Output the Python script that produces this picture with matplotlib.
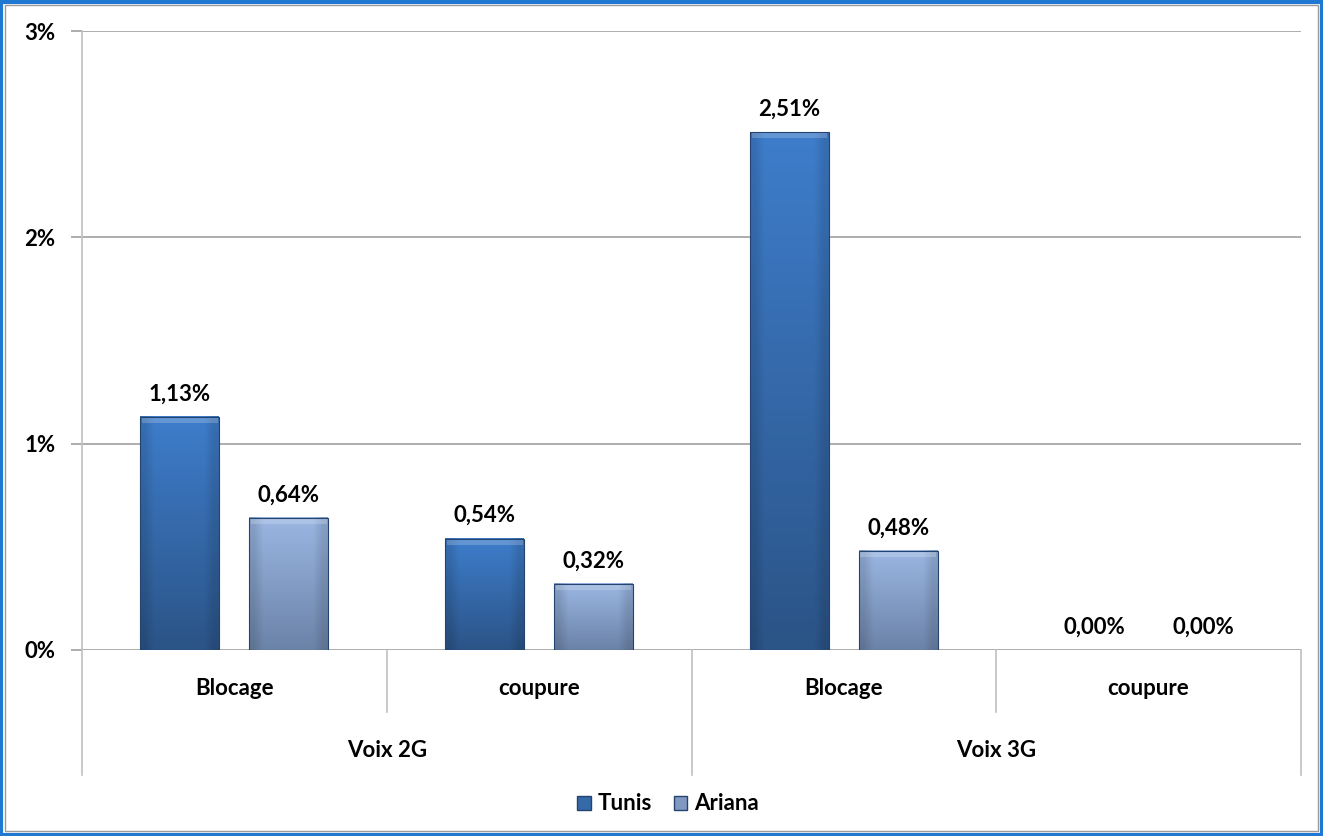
import numpy as np
import matplotlib.pyplot as plt
from matplotlib.patches import Rectangle
from matplotlib.lines import Line2D

plt.rcParams['font.family'] = ['Lato', 'DejaVu Sans']
plt.rcParams['font.weight'] = 'bold'

sub_cats = ['Blocage', 'coupure', 'Blocage', 'coupure']
groups = ['Voix 2G', 'Voix 3G']
tunis = [1.13, 0.54, 2.51, 0.00]
ariana = [0.64, 0.32, 0.48, 0.00]
yticks = [0, 1, 2, 3]

FS = 16
W, H = 1323, 836
fig = plt.figure(figsize=(W / 100, H / 100), dpi=100)
ax = fig.add_axes([82 / W, 1 - 650 / H, (1301 - 82) / W, (650 - 31) / H])
ax.set_xlim(0, 4)
ax.set_ylim(0, 3)

for s in ax.spines.values():
    s.set_visible(False)
ax.set_xticks([])
ax.set_yticks(yticks)
ax.set_yticklabels([f'{t}%' for t in yticks], fontsize=FS, fontweight='bold')
ax.tick_params(axis='y', length=8, color='#a0a0a0', width=1.2, pad=11)
for t in yticks:
    ax.axhline(t, color='#a0a0a0', lw=1.2, zorder=0)

# gradient bars
def grad_bar(x0, w, h, top, bottom):
    if h <= 0:
        return
    c0 = np.array(plt.matplotlib.colors.to_rgb(top))
    c1 = np.array(plt.matplotlib.colors.to_rgb(bottom))
    n = 64
    f = np.linspace(0, 1, n)[:, None]
    img = (c0 * (1 - f) + c1 * f)[:, None, :]
    img = np.repeat(img, 8, axis=1)
    edge = np.ones(8)
    edge[0] = edge[-1] = 0.88
    img = img * edge[None, :, None]
    ax.imshow(img, extent=(x0, x0 + w, 0, h), aspect='auto', zorder=2,
              interpolation='bilinear')
    ax.add_patch(Rectangle((x0, 0), w, h, fill=False, ec='#23446e', lw=0.8, zorder=3))
    ax.add_patch(Rectangle((x0 + w * 0.02, h - 0.03), w * 0.96, 0.025,
                           color='white', alpha=0.2, lw=0, zorder=3))

bw = 79 / 305
gap = 30 / 305
for i in range(4):
    c = i + 0.5
    xt = c - gap / 2 - bw
    xa = c + gap / 2
    grad_bar(xt, bw, tunis[i], '#3e7dcb', '#2b5487')
    grad_bar(xa, bw, ariana[i], '#9ab6e2', '#6c83a8')
    ax.text(xt + bw / 2, tunis[i] + 0.06, f'{tunis[i]:.2f}%'.replace('.', ','),
            ha='center', va='bottom', fontsize=FS, fontweight='bold')
    ax.text(xa + bw / 2, ariana[i] + 0.06, f'{ariana[i]:.2f}%'.replace('.', ','),
            ha='center', va='bottom', fontsize=FS, fontweight='bold')

ax.set_xlim(0, 4)
ax.set_ylim(0, 3)

# two-level category axis
trans = ax.get_xaxis_transform()
ax.add_line(Line2D([0, 0], [-0.202, 1], transform=trans, color='#c0c0c0', lw=1.2, clip_on=False))
for x, y0 in [(1, -0.1), (2, -0.202), (3, -0.1), (4, -0.202)]:
    ax.add_line(Line2D([x, x], [y0, 0], transform=trans, color='#c0c0c0', lw=1.2, clip_on=False))
for i, lab in enumerate(sub_cats):
    ax.text(i + 0.5, -0.063, lab, transform=trans, ha='center', va='center',
            fontsize=FS, fontweight='bold')
for j, g in enumerate(groups):
    ax.text(2 * j + 1, -0.162, g, transform=trans, ha='center', va='center',
            fontsize=FS, fontweight='bold')

# legend
handles = [Rectangle((0, 0), 1, 1, fc='#3569a8', ec='#23446e'),
           Rectangle((0, 0), 1, 1, fc='#8199c2', ec='#23446e')]
fig.legend(handles, ['Tunis', 'Ariana'], loc='center', bbox_to_anchor=(668 / W, 1 - 804 / H),
           ncol=2, frameon=False, handlelength=0.6, handleheight=0.6,
           handletextpad=0.3, columnspacing=1.0, prop={'weight': 'bold', 'size': FS})

# frame around the picture
fig.patches.append(Rectangle((0.001, 0.001), 0.998, 0.997, transform=fig.transFigure,
                             fill=False, ec='#1f78d1', lw=3))
fig.patches.append(Rectangle((5 / W, 5 / H), 1 - 10 / W, 1 - 10 / H, transform=fig.transFigure,
                             fill=False, ec='#9a9a9a', lw=1))

fig.savefig('out.png', dpi=100)
